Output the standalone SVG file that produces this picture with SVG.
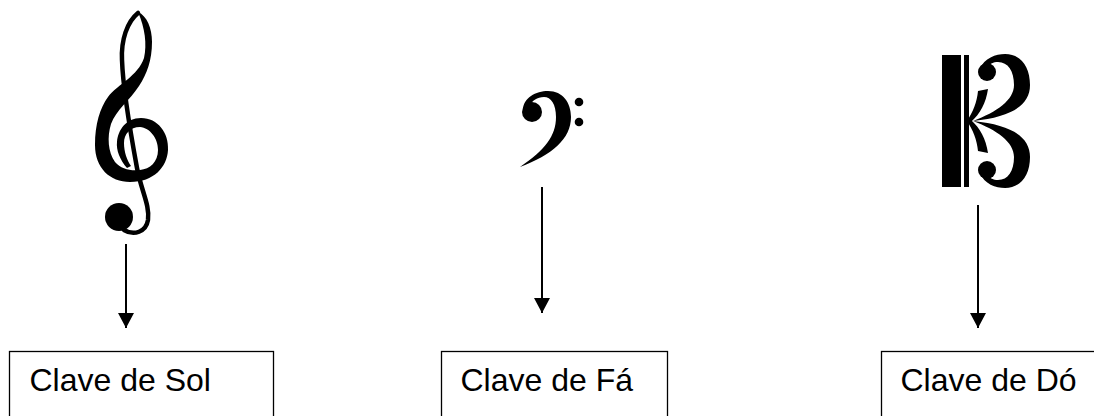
<svg xmlns="http://www.w3.org/2000/svg" xmlns:xlink="http://www.w3.org/1999/xlink" width="1094" height="416" viewBox="0 0 1094 416">
<style>
.box{fill:#fff;stroke:#000;stroke-width:1.3}
.lbl{font-family:"Liberation Sans",Arial,sans-serif;font-size:32px;fill:#000}
.conn{stroke:#000;stroke-width:2;fill:none}
.ink{fill:#000;stroke:none}
</style>
<defs>
<marker id="ah" markerUnits="userSpaceOnUse" markerWidth="16" markerHeight="16" refX="15" refY="8" orient="auto" viewBox="0 0 16 16">
<path d="M0,0 L15,8 L0,16 Z" fill="#000"/>
</marker>
<g id="cHalf">
<path class="ink" d="M967,121 C973,112 977,102 978,91 L988,89 C986,103 980,114 971,122 Z"/>
<path class="ink" d="M980,69 C984,58 996,54 1005,54 C1021,54 1030,67 1030,85 C1030,105 1012,117 973,121 C997,112 1014,100 1014,85 C1014,71 1008,62 998,62 C993,62 990,64 989,66 Z"/>
<circle class="ink" cx="987" cy="72" r="9"/>
</g>
</defs>
<g id="clef-sol">
<path class="ink" d="M138,12 C147,16 152,28 152,42 C152,60 147,74 139,86 C130,100 116,110 111,124 C107,137 108,152 115,162 C121,169 130,171 140,170 C150,169 158,162 158,150 C158,138 150,128 140,127 C130,127 124,134 124,143 C124,152 127,160 131,166 L127,168 C120,160 116,150 117,142 C118,130 126,118 141,118 C158,118 169,133 168,150 C167,167 154,182 130,182 C110,182 95,168 95,145 C95,124 100,108 108,97 C118,84 138,76 144,58 C147,44 145,28 138,12 Z"/>
<path fill="none" stroke="#000" stroke-width="4.5" stroke-linecap="round" d="M138,13 C127,22 121,40 122,60 C123,90 130,130 137,168 C141,190 150,205 148,220 C146,232 134,236 124,230"/>
<circle class="ink" cx="119" cy="217" r="14"/>
</g>
<g id="clef-fa">
<path class="ink" d="M523,110 C523,98 536,91 548,91 C563,91 571,103 571,117 C571,139 552,155 520,167 C545,150 556,136 556,117 C556,104 551,97 544,97 C537,97 532,101 531,104 Z"/>
<circle class="ink" cx="532" cy="112" r="10"/>
<circle class="ink" cx="579" cy="102" r="4.3"/>
<circle class="ink" cx="579" cy="122" r="4.3"/>
</g>
<g id="clef-do">
<rect class="ink" x="942" y="55" width="19" height="132"/>
<rect class="ink" x="964" y="55" width="5" height="132"/>
<use xlink:href="#cHalf"/>
<use xlink:href="#cHalf" transform="translate(0,242) scale(1,-1)"/>
</g>
<g id="connectors">
<line class="conn" x1="126" y1="244" x2="126" y2="328" marker-end="url(#ah)"/>
<line class="conn" x1="542" y1="187" x2="542" y2="313" marker-end="url(#ah)"/>
<line class="conn" x1="978" y1="205" x2="978" y2="328" marker-end="url(#ah)"/>
</g>
<g id="node-sol">
<rect class="box" x="9.5" y="351.5" width="264" height="80"/>
<text class="lbl" x="29.5" y="391">Clave de Sol</text>
</g>
<g id="node-fa">
<rect class="box" x="441.5" y="351.5" width="226" height="80"/>
<text class="lbl" x="460.5" y="391">Clave de Fá</text>
</g>
<g id="node-do">
<rect class="box" x="881.5" y="351.5" width="226" height="80"/>
<text class="lbl" x="900.5" y="391">Clave de Dó</text>
</g>
</svg>
